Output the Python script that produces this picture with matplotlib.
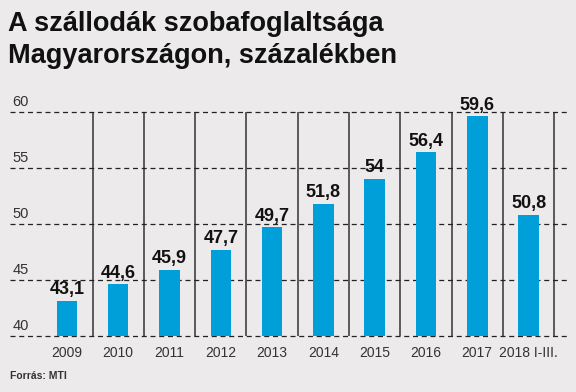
import numpy as np
from matplotlib import pyplot as plt
from matplotlib import transforms

years = ['2009', '2010', '2011', '2012', '2013', '2014', '2015', '2016', '2017', '2018 I-III.']
values = [43.1, 44.6, 45.9, 47.7, 49.7, 51.8, 54.0, 56.4, 59.6, 50.8]
labels = ['43,1', '44,6', '45,9', '47,7', '49,7', '51,8', '54', '56,4', '59,6', '50,8']
yticks = [40, 45, 50, 55, 60]

bg = '#ECEAEA'
blue = '#009FDA'
font = ['Liberation Sans', 'DejaVu Sans']

fig = plt.figure(figsize=(5.76, 3.92), dpi=100, facecolor=bg)
ax = fig.add_axes([10 / 576, 1 - 336 / 392, 557 / 576, 224 / 392])
ax.set_facecolor(bg)

x = np.arange(len(years))
ax.bar(x, values, width=0.4, color=blue, zorder=3)

ax.set_xlim(-1.11, 9.75)
ax.set_ylim(40, 60)

# dashed grid lines
for t in yticks:
    ax.axhline(t, color='#222222', lw=0.9, ls=(0, (4, 3)), zorder=2, clip_on=False)
    ax.text(0.004, t + 0.3, str(t), transform=transforms.blended_transform_factory(ax.transAxes, ax.transData),
            ha='left', va='bottom', fontsize=10.5, color='#333333', family=font)

# vertical separators
for s in x + 0.5:
    ax.axvline(s, color='#333333', lw=1.1, zorder=1)

for xi, v, lab in zip(x, values, labels):
    ax.text(xi, v + 0.25, lab, ha='center', va='bottom', fontsize=13,
            fontweight='bold', family=font, color='#111111', clip_on=False)

ax.set_xticks(x)
ax.set_xticklabels(years, fontsize=10, color='#333333', family=font)
ax.tick_params(axis='x', length=0, pad=7)
ax.set_yticks([])
for sp in ax.spines.values():
    sp.set_visible(False)

fig.text(8 / 576, 1 - 31 / 392, 'A szállodák szobafoglaltsága', fontsize=19.5,
         fontweight='bold', family=font, color='#111111', va='baseline')
fig.text(8 / 576, 1 - 63 / 392, 'Magyarországon, százalékben', fontsize=19.5,
         fontweight='bold', family=font, color='#111111', va='baseline')
fig.text(10 / 576, 1 - 376 / 392, 'Forrás: MTI', fontsize=7.5, fontweight='bold',
         family=font, color='#333333', va='center')

plt.savefig('out.png', dpi=100, facecolor=bg)
